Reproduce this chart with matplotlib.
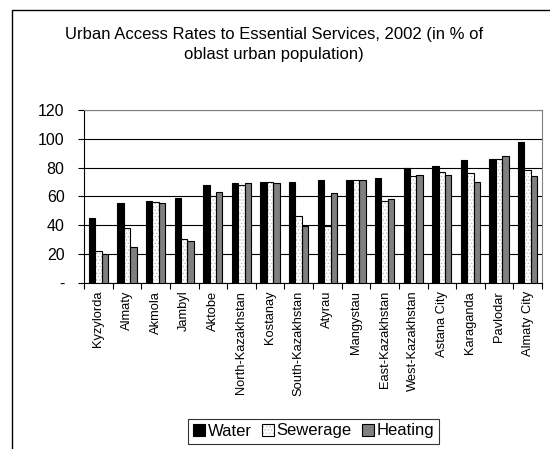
import matplotlib
matplotlib.use("Agg")
import matplotlib.pyplot as plt
import numpy as np
from matplotlib.patches import Rectangle, Patch
from matplotlib.legend_handler import HandlerTuple

plt.rcParams['font.family'] = ['Liberation Sans', 'DejaVu Sans']
plt.rcParams['hatch.linewidth'] = 0.5

regions = ["Kyzylorda", "Almaty", "Akmola", "Jambyl", "Aktobe", "North-Kazakhstan",
           "Kostanay", "South-Kazakhstan", "Atyrau", "Mangystau", "East-Kazakhstan",
           "West-Kazakhstan", "Astana City", "Karaganda", "Pavlodar", "Almaty City"]
water = [45, 55, 57, 59, 68, 69, 70, 70, 71, 71, 73, 80, 81, 85, 86, 98]
sewerage = [22, 38, 56, 30, 60, 68, 70, 46, 39, 71, 57, 74, 77, 76, 86, 78]
heating = [20, 25, 55, 29, 63, 69, 69, 39, 62, 71, 58, 75, 75, 70, 88, 74]
yticks = [0, 20, 40, 60, 80, 100, 120]
yticklabels = ["-", "20", "40", "60", "80", "100", "120"]

W, H = 550, 449
fig = plt.figure(figsize=(W / 100, H / 100), dpi=100)

# outer chart frame
fig.patches.append(Rectangle((12 / W, -0.05), 1.1, (H - 10) / H + 0.05,
                             transform=fig.transFigure, fill=False,
                             edgecolor='black', linewidth=1.0))

ax = fig.add_axes([84 / W, 1 - 282.5 / H, (542 - 84) / W, (282.5 - 110) / H])

x = np.arange(len(regions))
bw = 0.225
ax.bar(x - bw, water, bw, color='black', edgecolor='black', linewidth=0.8, zorder=3)
# sewerage: white bars with a light dotted fill, outlined in black
ax.bar(x, sewerage, bw, color='white', edgecolor='#b8b8b8', linewidth=0,
       hatch='.....', zorder=3)
ax.bar(x, sewerage, bw, fill=False, edgecolor='black', linewidth=0.8, zorder=4)
ax.bar(x + bw, heating, bw, color='#808080', edgecolor='black', linewidth=0.8, zorder=3)

ax.set_xlim(-0.5, len(regions) - 0.5)
ax.set_ylim(0, 120)
ax.set_yticks(yticks)
ax.set_yticklabels(yticklabels, fontsize=11.5)
ax.yaxis.grid(True, color='black', linewidth=0.8, zorder=0)
ax.set_axisbelow(True)

ax.set_xticks(x)
ax.set_xticklabels(regions, rotation=90, fontsize=9.3, va='top')
ax.set_xticks(np.arange(len(regions) + 1) - 0.5, minor=True)
ax.tick_params(axis='x', which='major', length=0, pad=6)
ax.tick_params(axis='x', which='minor', length=4, width=0.8, direction='out')
ax.tick_params(axis='y', length=4, width=0.8, direction='out', pad=10)

for side in ['top', 'right']:
    ax.spines[side].set_color('#808080')
    ax.spines[side].set_linewidth(0.8)
for side in ['left', 'bottom']:
    ax.spines[side].set_color('black')
    ax.spines[side].set_linewidth(0.8)

fig.text(274 / W, 1 - 39.5 / H,
         "Urban Access Rates to Essential Services, 2002 (in % of",
         ha='center', va='baseline', fontsize=12)
fig.text(274 / W, 1 - 58.5 / H, "oblast urban population)",
         ha='center', va='baseline', fontsize=12)

h_water = Patch(facecolor='black', edgecolor='black', linewidth=0.8)
h_sew = (Patch(facecolor='white', edgecolor='#b8b8b8', linewidth=0, hatch='.....'),
         Patch(fill=False, edgecolor='black', linewidth=0.8))
h_heat = Patch(facecolor='#808080', edgecolor='black', linewidth=0.8)

leg = fig.legend([h_water, h_sew, h_heat], ['Water', 'Sewerage', 'Heating'],
                 handler_map={tuple: HandlerTuple(ndivide=1)},
                 loc='center', bbox_to_anchor=(313.5 / W, 1 - 431 / H), ncol=3,
                 fontsize=12, frameon=True, fancybox=False, edgecolor='black',
                 handlelength=0.75, handleheight=0.75, handletextpad=0.15,
                 columnspacing=0.6, borderpad=0.3, borderaxespad=0)
leg.get_frame().set_linewidth(0.8)

fig.savefig("out.png", dpi=100)
